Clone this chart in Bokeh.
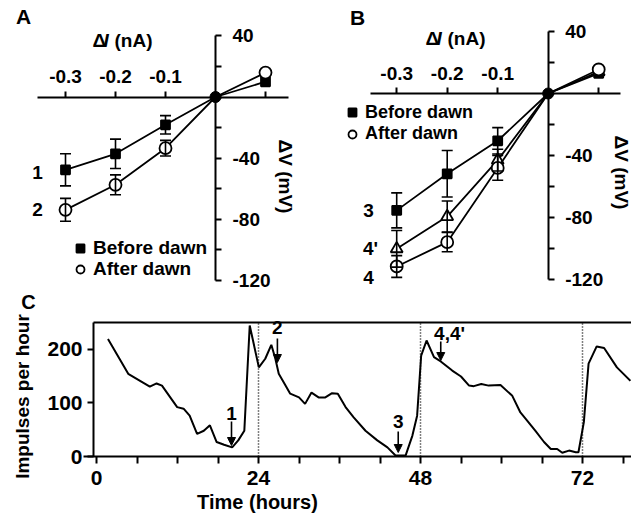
import math
from bokeh.plotting import figure
from bokeh.models import (Range1d, LinearAxis, FixedTicker, Whisker, TeeHead, ColumnDataSource,
                          Label, Legend, LegendItem, Arrow, NormalHead)
from bokeh.layouts import column, row
from bokeh.embed import file_html
from bokeh.resources import INLINE

FONT = "Liberation Sans"

# ---------------- data ----------------
# Panel A: current-voltage relation, cell recorded before / after dawn
a_current = [-0.3, -0.2, -0.1, 0.0, 0.1]
a_before = [-47.7, -37.2, -18.2, 0.0, 10.0]
a_before_err = [10.5, 9.6, 6.0, 0.0, 0.0]
a_after = [-73.9, -57.5, -33.5, 0.0, 16.0]
a_after_err = [7.5, 6.5, 5.1, 0.0, 0.0]

# Panel B
b_current = [-0.3, -0.2, -0.1, 0.0, 0.1]
b_before = [-75.4, -51.8, -30.5, 0.0, 13.0]      # 3
b_before_err = [11.3, 15.0, 8.5, 0.0, 0.0]
b_after = [-111.6, -95.9, -48.0, 0.0, 15.5]      # 4
b_after_err = [7.0, 6.2, 8.0, 0.0, 0.0]
b_after2 = [-100.2, -79.4, -43.0, 0.0, 14.0]     # 4'
b_after2_err = [11.8, 10.0, 7.0, 0.0, 0.0]

iv_ticks_x = [-0.3, -0.2, -0.1, 0.1]
iv_labels_x = {-0.3: "-0.3", -0.2: "-0.2", -0.1: "-0.1", 0.1: ""}
iv_ticks_y = [-120, -100, -80, -60, -40, -20, 0, 20, 40]
iv_labels_y = {-120: "-120", -80: "-80", -40: "-40", 40: "40"}
legend_labels = ["Before dawn", "After dawn"]

# Panel C: impulses per hour vs time
c_hours = [1.7, 4.7, 7.9, 8.9, 9.7, 11.95, 12.9, 13.8, 14.9, 15.9, 16.8, 17.8, 18.9, 20.1,
           21.0, 21.9, 22.7, 24.05, 25.0, 25.9, 26.5, 27.0, 27.75, 28.7, 30.0, 30.9, 31.85,
           32.9, 33.9, 34.9, 35.75, 36.9, 38.1, 39.85, 41.6, 43.1, 44.3, 45.8, 46.8, 47.5,
           48.1, 48.9, 50.0, 51.0, 52.7, 54.0, 55.2, 55.9, 57.0, 58.1, 59.85, 61.6, 62.8,
           63.8, 65.0, 66.3, 67.3, 68.25, 69.0, 70.0, 71.0, 71.4, 72.2, 72.9, 74.1, 75.2,
           77.1, 79.1]
c_rate = [219, 154, 130, 136, 132, 92, 89, 76, 42, 48, 58, 27, 22, 17,
          30, 48, 244, 166, 182, 208, 182, 154, 138, 117, 110, 98, 119,
          110, 110, 118, 117, 92, 73, 48, 30, 17, 2, 2, 39, 76,
          188, 216, 185, 177, 160, 149, 132, 131, 135, 132, 133, 113, 82,
          67, 48, 27, 14, 14, 7, 11, 8, 8, 64, 173, 205, 202,
          166, 141]
c_ticks_x = list(range(0, 79, 6))
c_ticks_y = [0, 100, 200]
dawn_hours = [24, 48, 72]
arrow_hours = [20.0, 26.8, 44.7, 51.0]
arrow_texts = ["1", "2", "3", "4,4'"]

# ---------------- pixel helpers (positions only) ----------------
def ax(px): return (px - 215.0) / 500.0
def ay(py): return (96.5 - py) / 1.527
def bx(px): return (px - 547.7) / 505.0
def by(py): return (93.0 - py) / 1.55
def cx(px): return (px - 96.0) / 6.75
def cy(py): return (456.0 - py) / 0.537

TOP_H = 290


def style_axis(axis, size="19px"):
    axis.axis_line_width = 2
    axis.major_tick_line_width = 2
    axis.major_tick_in = 0
    axis.minor_tick_out = 0
    axis.minor_tick_in = 0
    axis.major_label_text_font = FONT
    axis.major_label_text_font_style = "bold"
    axis.major_label_text_font_size = size
    axis.major_label_text_color = "black"


def lab(p, x, y, text, size="19px", align="center", angle=0.0, style="bold"):
    p.add_layout(Label(x=x, y=y, text=text, text_font=FONT, text_font_style=style,
                       text_font_size=size, text_align=align, text_baseline="middle",
                       angle=angle, text_color="black"))


def iv_panel(width, left_px, fx, fy, xb, series, legend_x, legend_rows, legend_font):
    p = figure(width=width, height=TOP_H,
               x_range=Range1d(fx(left_px), fx(left_px + width)),
               y_range=Range1d(fy(TOP_H), fy(0)),
               output_backend="svg", toolbar_location=None,
               x_axis_type=None, y_axis_type=None, min_border=0,
               outline_line_color=None, background_fill_color=None,
               border_fill_color=None)
    xa = LinearAxis(fixed_location=0, ticker=FixedTicker(ticks=iv_ticks_x),
                    major_label_overrides=iv_labels_x, bounds=xb)
    style_axis(xa)
    xa.major_tick_out = 6
    xa.major_label_standoff = 8
    p.add_layout(xa, "above")
    ya = LinearAxis(fixed_location=0, ticker=FixedTicker(ticks=iv_ticks_y),
                    major_label_overrides={t: iv_labels_y.get(t, "") for t in iv_ticks_y},
                    bounds=(-120, 40))
    style_axis(ya)
    ya.major_tick_out = 6
    ya.major_label_standoff = 11
    p.add_layout(ya, "right")

    renderers = {}
    for name, x, y, err, marker, fill, size in series:
        p.line(x, y, line_color="black", line_width=1.8)
        xs = [xi for xi, e in zip(x, err) if e > 0]
        src = ColumnDataSource(dict(
            x=xs,
            upper=[yi + e for yi, e in zip(y, err) if e > 0],
            lower=[yi - e for yi, e in zip(y, err) if e > 0]))
        p.add_layout(Whisker(source=src, base="x", upper="upper", lower="lower",
                             line_width=1.6, line_color="black", level="glyph",
                             upper_head=TeeHead(size=11, line_width=1.6),
                             lower_head=TeeHead(size=11, line_width=1.6)))
        mx = [xi for xi in x if xi != 0]
        my = [yi for xi, yi in zip(x, y) if xi != 0]
        r = p.scatter(mx, my, marker=marker, size=size, fill_color=fill,
                      line_color="black", line_width=1.8)
        renderers[name] = r
    # converging point at the origin
    ox = [xi for xi in series[0][1] if xi == 0]
    oy = [yi for xi, yi in zip(series[0][1], series[0][2]) if xi == 0]
    p.scatter(ox, oy, marker="circle", size=11, fill_color="black", line_color="black")

    # one legend row per entry, so that each row can sit where the reference has it
    for label, key, row_center in zip(legend_labels, ["before", "after"], legend_rows):
        leg = Legend(items=[LegendItem(label=label, renderers=[renderers[key]])],
                     location=(legend_x, TOP_H - row_center - 11),
                     padding=0, margin=0, spacing=0,
                     glyph_width=22, glyph_height=20, label_height=18,
                     label_standoff=2, border_line_color=None, background_fill_alpha=0,
                     label_text_font=FONT, label_text_font_style="bold",
                     label_text_font_size=legend_font, label_text_color="black")
        p.add_layout(leg, "center")
    return p


pa = iv_panel(318, 0, ax, ay, (ax(37), ax(288)),
              [("before", a_current, a_before, a_before_err, "square", "black", 9),
               ("after", a_current, a_after, a_after_err, "circle", "white", 12)],
              69, [247.5, 268.5], "19px")
lab(pa, ax(23), ay(16), "A", size="21px")
lab(pa, ax(92), ay(40), "\u0394", align="left")
lab(pa, ax(103), ay(40), "I", align="left", style="bold italic")
lab(pa, ax(114), ay(40), "(nA)", align="left")
lab(pa, ax(285), ay(176), "\u0394V (mV)", angle=-math.pi / 2)
lab(pa, ax(37), ay(172), "1")
lab(pa, ax(37), ay(209), "2")

pb = iv_panel(313, 318, bx, by, (bx(370), bx(620)),
              [("before", b_current, b_before, b_before_err, "square", "black", 9),
               ("after2", b_current, b_after2, b_after2_err, "triangle", "white", 12),
               ("after", b_current, b_after, b_after_err, "circle", "white", 12)],
              23, [111.5, 133], "18px")
lab(pb, bx(357), by(17), "B", size="21px")
lab(pb, bx(425), by(38), "\u0394", align="left")
lab(pb, bx(436), by(38), "I", align="left", style="bold italic")
lab(pb, bx(447), by(38), "(nA)", align="left")
lab(pb, bx(621), by(172), "\u0394V (mV)", angle=-math.pi / 2)
lab(pb, bx(368), by(210), "3")
lab(pb, bx(370), by(248), "4'")
lab(pb, bx(368), by(277), "4")

# ---------------- panel C ----------------
C_TOP, C_H = 290, 223
c_top_val = cy(322)
pc = figure(width=631, height=C_H,
            x_range=Range1d(cx(0), cx(631)), y_range=Range1d(cy(C_TOP + C_H), cy(C_TOP)),
            output_backend="svg", toolbar_location=None,
            x_axis_type=None, y_axis_type=None, min_border=0,
            outline_line_color=None, background_fill_color=None, border_fill_color=None)
cxa = LinearAxis(fixed_location=0, bounds=(cx(83), cx(631)),
                 ticker=FixedTicker(ticks=c_ticks_x),
                 major_label_overrides={t: (str(t) if t % 24 == 0 else "") for t in c_ticks_x})
style_axis(cxa, "21px")
cxa.major_tick_out = 7
cxa.major_label_standoff = 7
pc.add_layout(cxa, "below")
cya = LinearAxis(fixed_location=cx(93), bounds=(0, c_top_val),
                 ticker=FixedTicker(ticks=c_ticks_y))
style_axis(cya, "21px")
cya.major_tick_out = 6
cya.major_label_standoff = 5
pc.add_layout(cya, "left")
# top frame line
pc.segment(x0=[cx(93)], y0=[c_top_val], x1=[cx(631)], y1=[c_top_val],
           line_color="black", line_width=2)
# dawn markers
pc.segment(x0=dawn_hours, y0=[0] * len(dawn_hours), x1=dawn_hours,
           y1=[c_top_val] * len(dawn_hours), line_color="black", line_width=1.5,
           line_dash="1 2")
pc.line(c_hours, c_rate, line_color="black", line_width=2)

arrow_px = [(421, 445, 413), (338, 362, 327), (431, 452, 421), (341, 360, 333)]
for h, t, (ys, ye, yl) in zip(arrow_hours, arrow_texts, arrow_px):
    pc.add_layout(Arrow(end=NormalHead(size=8, fill_color="black", line_color="black"),
                        x_start=h, y_start=cy(ys), x_end=h, y_end=cy(ye),
                        line_color="black", line_width=1.6))
    lab(pc, h + (1.3 if t == "4,4'" else 0), cy(yl), t)

lab(pc, cx(28), cy(301), "C", size="20px")
lab(pc, cx(257), cy(501), "Time (hours)", size="20px")
lab(pc, cx(22), cy(396), "Impulses per hour", size="19px", angle=math.pi / 2)

layout = column(row(pa, pb), pc)
open("out.html", "w").write(file_html(layout, INLINE))
